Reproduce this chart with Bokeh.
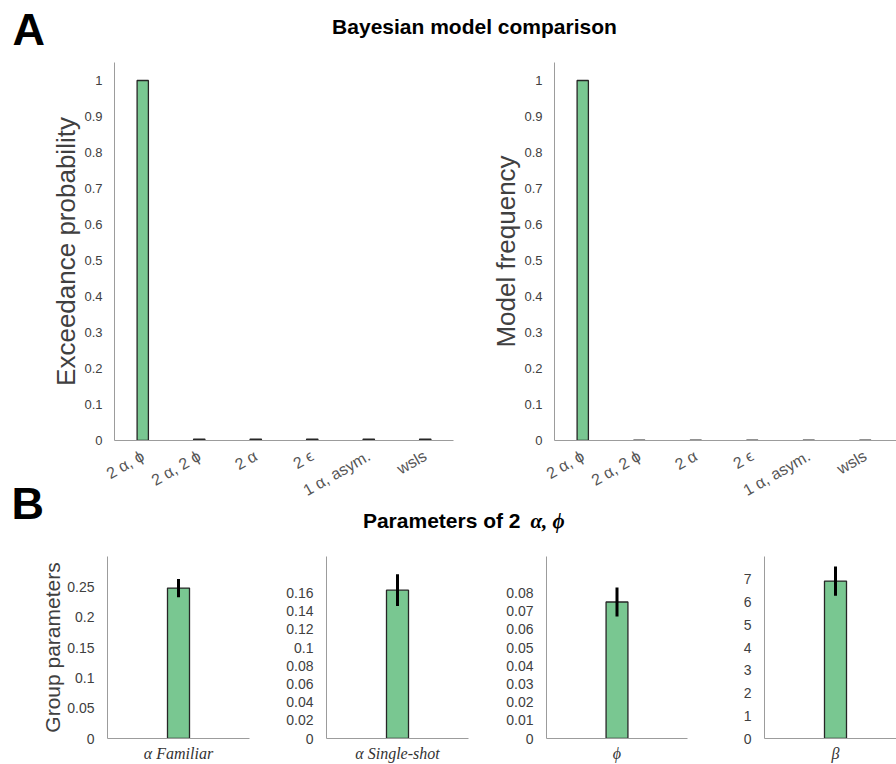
import math
from bokeh.plotting import figure
from bokeh.layouts import column, row
from bokeh.models import Range1d, FixedTicker, PrintfTickFormatter, Label
from bokeh.embed import file_html
from bokeh.resources import INLINE

# ---------------- data ----------------
models = ["2 α, ϕ", "2 α, 2 ϕ", "2 α", "2 ϵ", "1 α, asym.", "wsls"]
exceedance_prob = [1.0, 0.004, 0.004, 0.004, 0.004, 0.004]
model_freq = [1.0, 0.0008, 0.0008, 0.0008, 0.0008, 0.0008]
yticks_a = [0, 0.1, 0.2, 0.3, 0.4, 0.5, 0.6, 0.7, 0.8, 0.9, 1]

param_labels = ["α Familiar", "α Single-shot", "ϕ", "β"]
param_means = [0.248, 0.163, 0.075, 6.92]
param_errs = [0.015, 0.0175, 0.008, 0.64]
param_ymax = [0.3, 0.2, 0.1, 8]
param_ticks = [
    [0, 0.05, 0.1, 0.15, 0.2, 0.25],
    [0, 0.02, 0.04, 0.06, 0.08, 0.1, 0.12, 0.14, 0.16],
    [0, 0.01, 0.02, 0.03, 0.04, 0.05, 0.06, 0.07, 0.08],
    [0, 1, 2, 3, 4, 5, 6, 7],
]

BAR_FILL = "#79c791"
BAR_LINE = "#262626"
AXIS_COLOR = "#9c9c9c"
TEXT_COLOR = "#404040"
SANS = "Liberation Sans"
SERIF = "Liberation Serif"


def style_axes(p, tick_size):
    p.grid.visible = False
    p.outline_line_color = None
    for ax in (p.xaxis[0], p.yaxis[0]):
        ax.axis_line_color = AXIS_COLOR
        ax.axis_line_width = 1
        ax.major_tick_line_color = None
        ax.minor_tick_line_color = None
        ax.major_label_text_color = TEXT_COLOR
        ax.major_label_text_font = SANS
        ax.major_label_text_font_size = tick_size
        ax.axis_label_text_color = TEXT_COLOR
        ax.axis_label_text_font = SANS
        ax.axis_label_text_font_style = "normal"


def header(width, height):
    h = figure(width=width, height=height, x_range=Range1d(0, width),
               y_range=Range1d(height, 0), x_axis_type=None, y_axis_type=None,
               toolbar_location=None, output_backend="svg", min_border=0)
    h.grid.visible = False
    h.outline_line_color = None
    h.background_fill_color = None
    h.border_fill_color = None
    return h


def head_label(x, y, text, font, size, style, align):
    return Label(x=x, y=y, text=text, text_font=font, text_font_size=size,
                 text_font_style=style, text_color="black",
                 text_align=align, text_baseline="middle")


# ---------------- header A ----------------
hA = header(896, 60)
hA.add_layout(head_label(12, 29, "A", SANS, "45px", "bold", "left"))
hA.add_layout(head_label(474, 26, "Bayesian model comparison", SANS, "21px",
                         "bold", "center"))


# ---------------- panel A ----------------
def model_plot(values, ylabel, width, x_end, left, right):
    p = figure(width=width, height=450, x_range=Range1d(0.5, x_end),
               y_range=Range1d(0, 1.05), toolbar_location=None,
               output_backend="svg", min_border_left=left,
               min_border_right=right, min_border_top=2, min_border_bottom=70)
    xs = list(range(1, len(values) + 1))
    p.vbar(x=xs, top=values, width=0.2, fill_color=BAR_FILL,
           line_color=BAR_LINE, line_width=1.3)
    style_axes(p, "13px")
    p.xaxis.ticker = FixedTicker(ticks=xs)
    p.xaxis.major_label_overrides = {i + 1: m for i, m in enumerate(models)}
    p.xaxis.major_label_orientation = math.radians(30)
    p.xaxis.major_label_text_font_size = "16px"
    p.xaxis.major_label_text_color = "#555555"
    p.xaxis.major_label_standoff = 8
    p.yaxis.ticker = FixedTicker(ticks=yticks_a)
    p.yaxis.formatter = PrintfTickFormatter(format="%g")
    p.yaxis.major_label_standoff = 6
    p.yaxis.axis_label = ylabel
    p.yaxis.axis_label_text_font_size = "26px"
    p.yaxis.axis_label_standoff = 0
    return p


pa1 = model_plot(exceedance_prob, "Exceedance probability", 470, 6.5, 114, 17)
pa2 = model_plot(model_freq, "Model frequency", 426, 0.5 + 342 / 56.5, 84, 0)

# ---------------- header B ----------------
hB = header(896, 82)
hB.margin = (-40, 0, 0, 0)
hB.add_layout(head_label(11, 33, "B", SANS, "45px", "bold", "left"))
hB.add_layout(head_label(520, 50, "Parameters of 2", SANS, "21px", "bold",
                         "right"))
hB.add_layout(head_label(530, 50, "α, ϕ", SERIF, "21px", "bold italic",
                         "left"))

# ---------------- panel B ----------------
widths = [270, 220, 220, 186]
lefts = [107, 56, 56, 54]
rights = [21, 22, 23, 0]
x_ends = [2, 2, 2, 132 / 71]
pb = []
for i in range(4):
    p = figure(width=widths[i], height=212, x_range=Range1d(0, x_ends[i]),
               y_range=Range1d(0, param_ymax[i]), toolbar_location=None,
               output_backend="svg", min_border_left=lefts[i],
               min_border_right=rights[i], min_border_top=4,
               min_border_bottom=22)
    p.vbar(x=[1], top=[param_means[i]], width=0.31, fill_color=BAR_FILL,
           line_color=BAR_LINE, line_width=1.3)
    p.segment(x0=[1], y0=[param_means[i] - param_errs[i]], x1=[1],
              y1=[param_means[i] + param_errs[i]], line_width=3,
              line_color="black")
    style_axes(p, "14px")
    p.xaxis.ticker = FixedTicker(ticks=[1])
    p.xaxis.major_label_overrides = {1: param_labels[i]}
    p.xaxis.major_label_text_font = SERIF
    p.xaxis.major_label_text_font_style = "italic"
    p.xaxis.major_label_text_font_size = "16px"
    p.xaxis.major_label_text_color = "#333333"
    p.xaxis.major_label_text_line_height = 1.0
    p.xaxis.major_label_standoff = 0
    p.yaxis.ticker = FixedTicker(ticks=param_ticks[i])
    p.yaxis.formatter = PrintfTickFormatter(format="%g")
    p.yaxis.major_label_standoff = 7
    if i == 0:
        p.yaxis.axis_label = "Group parameters"
        p.yaxis.axis_label_text_font_size = "21px"
        p.yaxis.axis_label_standoff = 0
    pb.append(p)

layout = column(hA, row(pa1, pa2), hB, row(*pb))

with open("out.html", "w") as f:
    f.write(file_html(layout, INLINE))
